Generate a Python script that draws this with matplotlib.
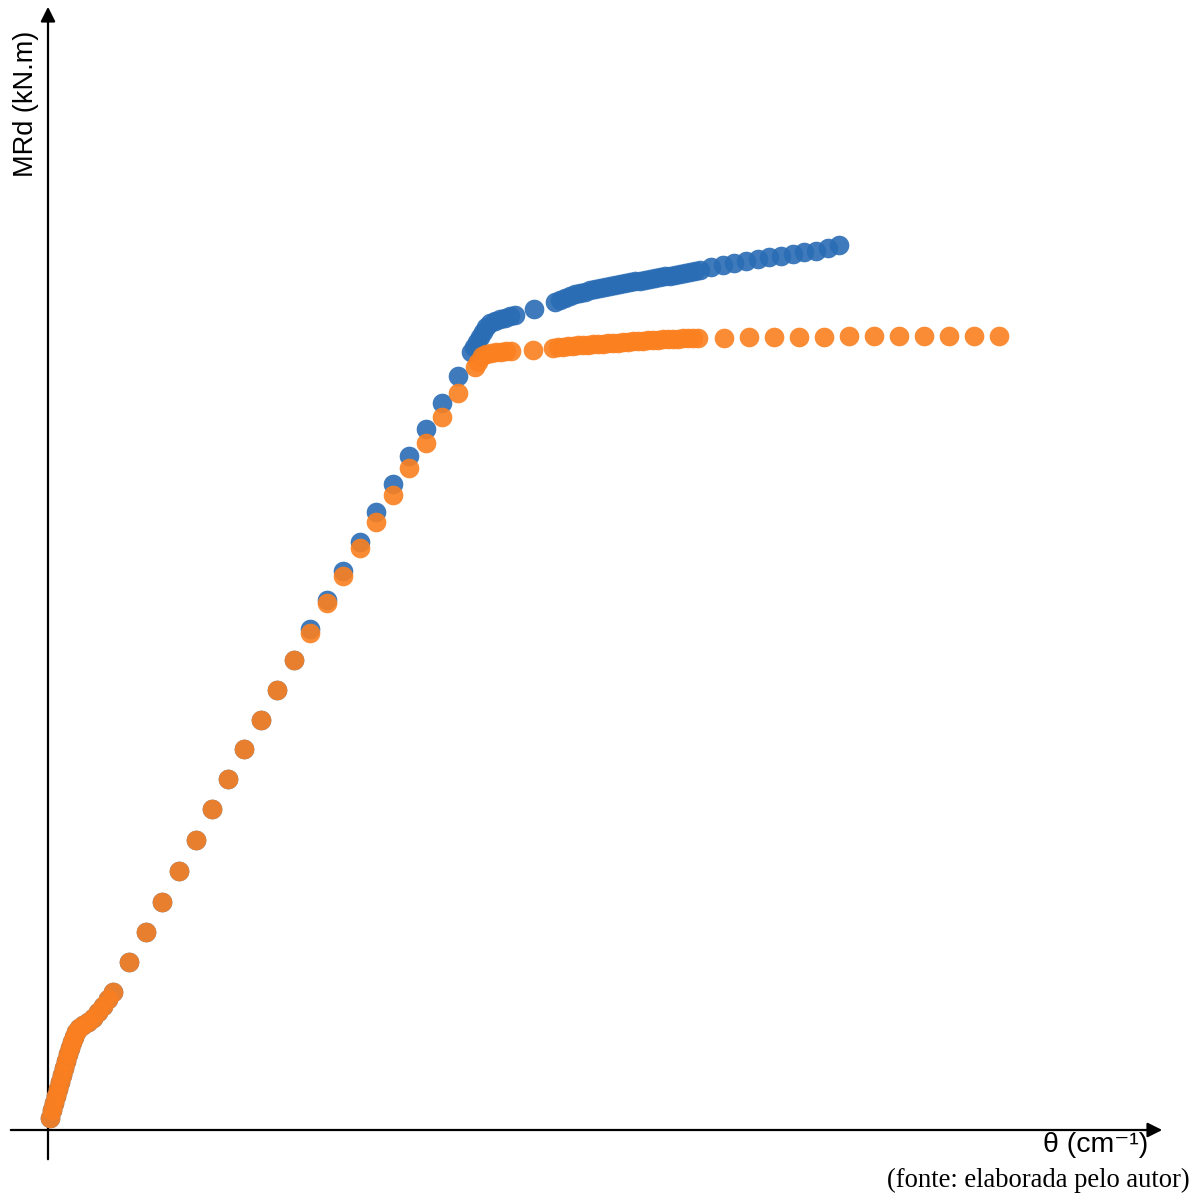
import numpy as np
import matplotlib
matplotlib.use("Agg")
import matplotlib.pyplot as plt

# theta (cm^-1, scaled) and MRd (kN.m)

# shared start of both curves
theta_base = [0.02, 0.04, 0.06, 0.08, 0.10, 0.12, 0.14, 0.16, 0.18, 0.20, 0.22,
              0.24, 0.26, 0.28, 0.31, 0.35, 0.40, 0.45, 0.50, 0.55, 0.60, 0.65,
              0.81, 0.98, 1.14, 1.31, 1.48, 1.64, 1.80, 1.96, 2.13, 2.29, 2.46]
mrd_base = [1.2, 2.0, 2.7, 3.4, 4.1, 4.8, 5.5, 6.2, 6.9, 7.6, 8.2,
            8.8, 9.3, 9.8, 10.2, 10.5, 10.8, 11.2, 11.8, 12.4, 13.1, 13.8,
            16.8, 19.8, 22.8, 25.9, 29.0, 32.1, 35.1, 38.1, 41.0, 44.0, 47.0]

# blue series (upper branch)
theta_blue = [2.62, 2.79, 2.95, 3.12, 3.28, 3.45, 3.61, 3.78, 3.94, 4.10,
              4.23, 4.26, 4.29, 4.32, 4.35, 4.38, 4.42, 4.47, 4.52, 4.57, 4.62, 4.67,
              4.86,
              5.07, 5.12, 5.17, 5.22, 5.27, 5.32, 5.37, 5.42, 5.47, 5.52,
              5.57, 5.62, 5.67, 5.72, 5.77, 5.82, 5.87, 5.92, 5.97, 6.02,
              6.07, 6.12, 6.17, 6.22, 6.27, 6.32, 6.37, 6.42, 6.47, 6.52,
              6.63, 6.75, 6.86, 6.98, 7.10, 7.21, 7.33, 7.45, 7.56, 7.68, 7.80, 7.91]
mrd_blue = [50.1, 53.0, 55.9, 58.8, 61.8, 64.6, 67.4, 70.1, 72.7, 75.4,
            77.8, 78.3, 78.8, 79.3, 79.8, 80.3, 80.7, 80.9, 81.1, 81.2, 81.4, 81.5,
            82.1,
            82.8, 83.0, 83.2, 83.4, 83.6, 83.7, 83.8, 84.0, 84.1, 84.2,
            84.3, 84.4, 84.5, 84.6, 84.7, 84.8, 84.9, 84.9, 85.0, 85.1,
            85.2, 85.3, 85.4, 85.4, 85.5, 85.6, 85.7, 85.8, 85.9, 86.0,
            86.3, 86.5, 86.7, 86.9, 87.1, 87.3, 87.4, 87.6, 87.8, 87.9, 88.2, 88.5]

# orange series (lower branch)
theta_orange = [2.62, 2.79, 2.95, 3.12, 3.28, 3.45, 3.61, 3.78, 3.94, 4.10,
                4.27, 4.30, 4.34, 4.38, 4.43, 4.48, 4.53, 4.58, 4.63,
                4.85,
                5.05, 5.10, 5.15, 5.20, 5.25, 5.30, 5.35, 5.40, 5.45, 5.50,
                5.55, 5.60, 5.65, 5.70, 5.75, 5.80, 5.85, 5.90, 5.95, 6.00,
                6.05, 6.10, 6.15, 6.20, 6.25, 6.30, 6.35, 6.40, 6.45, 6.50,
                6.76, 7.01, 7.26, 7.51, 7.76, 8.01, 8.26, 8.51, 8.76, 9.01, 9.26, 9.51]
mrd_orange = [49.7, 52.7, 55.4, 58.2, 60.8, 63.5, 66.2, 68.7, 71.3, 73.7,
              76.3, 76.8, 77.4, 77.6, 77.7, 77.8, 77.8, 77.9, 77.9,
              78.0,
              78.2, 78.3, 78.3, 78.4, 78.4, 78.5, 78.5, 78.5, 78.6, 78.6,
              78.6, 78.7, 78.7, 78.7, 78.8, 78.8, 78.9, 78.9, 78.9, 79.0,
              79.0, 79.0, 79.1, 79.1, 79.1, 79.1, 79.2, 79.2, 79.2, 79.2,
              79.25, 79.27, 79.3, 79.32, 79.34, 79.36, 79.38, 79.4, 79.4, 79.42, 79.44, 79.45]

fig = plt.figure(figsize=(12.04, 11.96), dpi=100)
ax = fig.add_axes([0, 0, 1, 1])
ax.set_xlim(-0.48, 11.56)
ax.set_ylim(-6.6, 113.0)
ax.axis('off')

# axes with arrow heads
ax.annotate('', xy=(11.17, 0), xytext=(-0.40, 0),
            arrowprops=dict(arrowstyle='-|>', lw=1.6, color='black', mutation_scale=22))
ax.annotate('', xy=(0, 112.6), xytext=(0, -3.2),
            arrowprops=dict(arrowstyle='-|>', lw=1.6, color='black', mutation_scale=22))

blue = '#2a6db5'
orange = '#fb8020'
ax.scatter(theta_base + theta_blue, mrd_base + mrd_blue, s=200, color=blue,
           alpha=0.9, linewidths=0, zorder=3)
ax.scatter(theta_base + theta_orange, mrd_base + mrd_orange, s=200, color=orange,
           alpha=0.9, linewidths=0, zorder=4)

sans = ['Liberation Sans', 'DejaVu Sans']
ax.text(-0.22, 113.0 - 10.4, 'MRd (kN.m)', rotation=90, ha='center', va='center',
        fontsize=19.5, family=sans)
ax.text(10.48, -1.5, 'θ (cm⁻¹)', ha='center', va='center', fontsize=20.5, family=sans)
ax.text(11.42, -5.0, '(fonte: elaborada pelo autor)', ha='right', va='center',
        fontsize=19.2, family=['Liberation Serif', 'DejaVu Serif'])

fig.savefig('out.png', dpi=100)
